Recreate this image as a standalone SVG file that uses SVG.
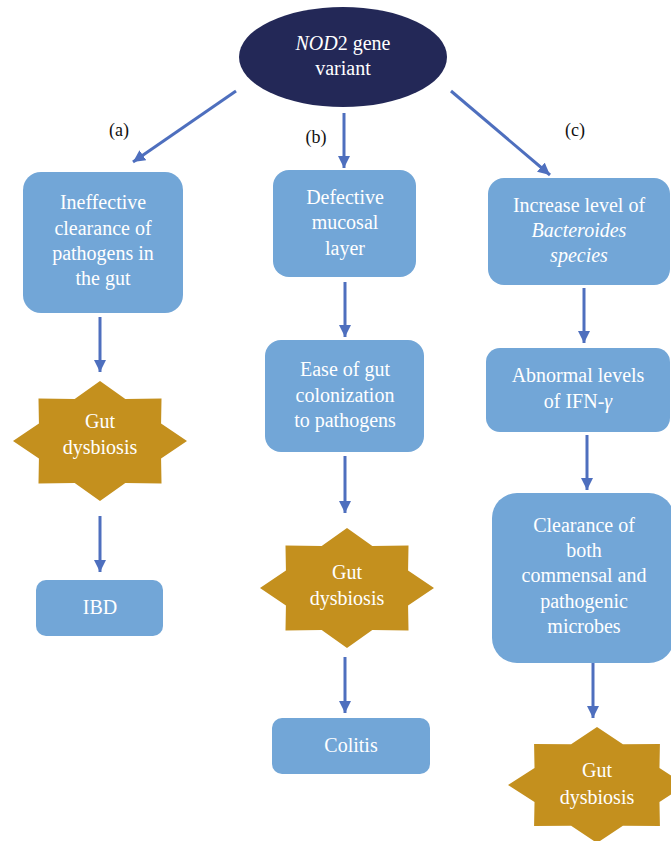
<svg xmlns="http://www.w3.org/2000/svg" width="671" height="841" viewBox="0 0 671 841">
<style>
.box{fill:#72a6d7}
.star{fill:#c4901e}
.t{font-family:"Liberation Serif","DejaVu Serif",serif;font-size:20px;fill:#ffffff;text-anchor:middle}
.lbl{font-family:"Liberation Serif","DejaVu Serif",serif;font-size:18px;fill:#111111;text-anchor:middle}
.c{stroke:#4e6fbe;stroke-width:3;fill:none;marker-end:url(#ah)}
</style>
<defs>
<marker id="ah" viewBox="0 0 12 12" markerWidth="12" markerHeight="12" refX="12" refY="6" markerUnits="userSpaceOnUse" orient="auto">
<path d="M0,0 L12,6 L0,12 z" fill="#4e6fbe"/>
</marker>
<polygon id="starshape" points="0,-1 0.291,-0.702 0.707,-0.707 0.702,-0.291 1,0 0.702,0.291 0.707,0.707 0.291,0.702 0,1 -0.291,0.702 -0.707,0.707 -0.702,0.291 -1,0 -0.702,-0.291 -0.707,-0.707 -0.291,-0.702"/>
</defs>
<rect width="671" height="841" fill="#ffffff"/>

<g id="connectors">
<line class="c" x1="236" y1="91" x2="133" y2="162"/>
<line class="c" x1="344" y1="113" x2="344" y2="168"/>
<line class="c" x1="451" y1="91" x2="550" y2="175"/>
<line class="c" x1="100" y1="317" x2="100" y2="372"/>
<line class="c" x1="100" y1="516" x2="100" y2="572"/>
<line class="c" x1="345" y1="282" x2="345" y2="337"/>
<line class="c" x1="345" y1="456" x2="345" y2="513"/>
<line class="c" x1="345" y1="657" x2="345" y2="713"/>
<line class="c" x1="584" y1="288" x2="584" y2="343"/>
<line class="c" x1="587" y1="435" x2="587" y2="490"/>
<line class="c" x1="593" y1="663" x2="593" y2="718"/>
</g>

<g id="labels">
<text class="lbl" x="119" y="136">(a)</text>
<text class="lbl" x="316" y="143">(b)</text>
<text class="lbl" x="575" y="136">(c)</text>
</g>

<g id="root">
<ellipse cx="343" cy="57" rx="104" ry="50" fill="#232857"/>
<text class="t" x="343" y="50"><tspan font-style="italic">NOD</tspan>2 gene</text>
<text class="t" x="343" y="75">variant</text>
</g>

<g id="a1">
<rect class="box" x="23" y="172" width="160" height="141" rx="18"/>
<text class="t" x="103" y="209">Ineffective</text>
<text class="t" x="103" y="235">clearance of</text>
<text class="t" x="103" y="260">pathogens in</text>
<text class="t" x="103" y="285">the gut</text>
</g>
<g id="a2">
<use href="#starshape" class="star" transform="translate(100,441) scale(87,60)"/>
<text class="t" x="100" y="428">Gut</text>
<text class="t" x="100" y="454">dysbiosis</text>
</g>
<g id="a3">
<rect class="box" x="36" y="580" width="127" height="56" rx="10"/>
<text class="t" x="100" y="614">IBD</text>
</g>

<g id="b1">
<rect class="box" x="273" y="170" width="143" height="107" rx="16"/>
<text class="t" x="345" y="204">Defective</text>
<text class="t" x="345" y="229">mucosal</text>
<text class="t" x="345" y="255">layer</text>
</g>
<g id="b2">
<rect class="box" x="265" y="340" width="159" height="112" rx="16"/>
<text class="t" x="345" y="376">Ease of gut</text>
<text class="t" x="345" y="402">colonization</text>
<text class="t" x="345" y="427">to pathogens</text>
</g>
<g id="b3">
<use href="#starshape" class="star" transform="translate(347,588) scale(87,60)"/>
<text class="t" x="347" y="579">Gut</text>
<text class="t" x="347" y="605">dysbiosis</text>
</g>
<g id="b4">
<rect class="box" x="272" y="718" width="158" height="56" rx="10"/>
<text class="t" x="351" y="752">Colitis</text>
</g>

<g id="c1">
<rect class="box" x="488" y="178" width="182" height="107" rx="16"/>
<text class="t" x="579" y="212">Increase level of</text>
<text class="t" x="579" y="237" font-style="italic">Bacteroides</text>
<text class="t" x="579" y="262" font-style="italic">species</text>
</g>
<g id="c2">
<rect class="box" x="486" y="348" width="184" height="84" rx="14"/>
<text class="t" x="578" y="382">Abnormal levels</text>
<text class="t" x="578" y="408">of IFN-<tspan font-style="italic">γ</tspan></text>
</g>
<g id="c3">
<rect class="box" x="492" y="493" width="182" height="170" rx="25"/>
<text class="t" x="584" y="532">Clearance of</text>
<text class="t" x="584" y="557">both</text>
<text class="t" x="584" y="582">commensal and</text>
<text class="t" x="584" y="608">pathogenic</text>
<text class="t" x="584" y="633">microbes</text>
</g>
<g id="c4">
<use href="#starshape" class="star" transform="translate(597,785) scale(89,58)"/>
<text class="t" x="597" y="777">Gut</text>
<text class="t" x="597" y="804">dysbiosis</text>
</g>
</svg>
